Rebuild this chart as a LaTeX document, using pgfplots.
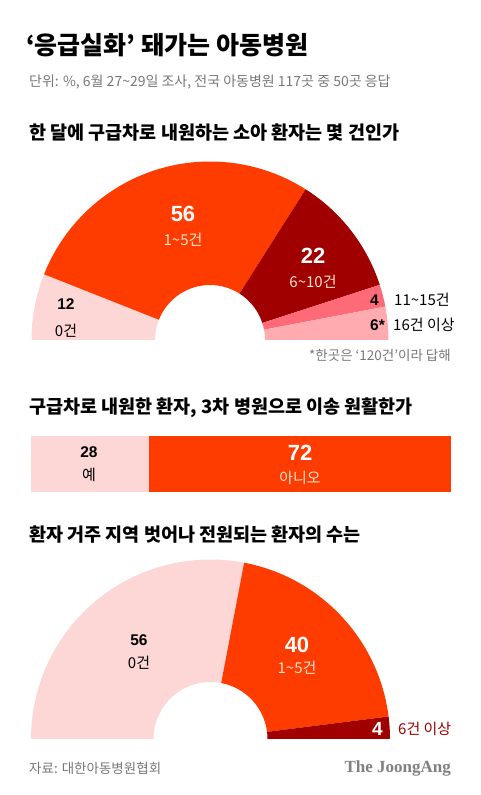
\documentclass[border=0pt]{standalone}
\usepackage{pgfplots}
\pgfplotsset{compat=1.18}
\usepackage{fontspec}
\setmainfont{Noto Sans CJK KR}
\newfontfamily\serifbrand{Liberation Serif}
\newfontfamily\num{Liberation Sans}
\definecolor{cPale}{HTML}{FDD6D6}
\definecolor{cOrange}{HTML}{FF3C00}
\definecolor{cDark}{HTML}{A00000}
\definecolor{cMid}{HTML}{FF6A78}
\definecolor{cLight}{HTML}{FFABB0}
\definecolor{cGray}{HTML}{777777}
\definecolor{cCream}{HTML}{FFE3D3}
% donut segment: cx cy R r p1 p2 colour  (p in percent of a half circle)
\newcommand{\seg}[7]{%
 \fill[#7] (axis cs:{#1+#3*cos(180-1.8*(#5))},{#2+#3*sin(180-1.8*(#5))})
   arc[start angle={180-1.8*(#5)}, end angle={180-1.8*(#6)}, radius=#3pt]
   -- (axis cs:{#1+#4*cos(180-1.8*(#6))},{#2+#4*sin(180-1.8*(#6))})
   arc[start angle={180-1.8*(#6)}, end angle={180-1.8*(#5)}, radius=#4pt] -- cycle;}
\newcommand{\fs}[1]{\fontsize{#1}{#1}\selectfont}
\begin{document}
\begin{tikzpicture}
\path (0,0) rectangle (480pt,795pt);
\begin{axis}[at={(0,0)}, anchor=south west, x=1pt, y=1pt,
  xmin=0, xmax=480, ymin=0, ymax=795, hide axis, clip=false]
% chart 1: 12, 56, 22, 4, 6
\seg{210}{455}{178.5}{55}{0}{12}{cPale}
\seg{210}{455}{178.5}{55}{12}{12+56}{cOrange}
\seg{210}{455}{178.5}{55}{12+56}{12+56+22}{cDark}
\seg{210}{455}{178.5}{55}{12+56+22}{12+56+22+4}{cMid}
\seg{210}{455}{178.5}{55}{12+56+22+4}{12+56+22+4+6}{cLight}
% chart 3: 56, 40, 4
\seg{210.5}{56}{179.5}{57}{0}{56}{cPale}
\seg{210.5}{56}{179.5}{57}{56}{56+40}{cOrange}
\seg{210.5}{56}{179.5}{57}{56+40}{56+40+4}{cDark}
\end{axis}
\begin{axis}[at={(31pt,303pt)}, anchor=south west, width=420pt, height=56pt,
  scale only axis, xbar stacked, bar width=56pt, xmin=0, xmax=100,
  ymin=-0.5, ymax=0.5, hide axis, clip=false]
\addplot[fill=cPale, draw=none] coordinates {(28,0)};
\addplot[fill=cOrange, draw=none] coordinates {(72,0)};
\end{axis}
% titles
\node[anchor=west, inner sep=0] at (26pt,750pt) {\fs{25}\bfseries ‘응급실화’ 돼가는 아동병원};
\node[anchor=west, inner sep=0, text=cGray] at (29pt,713pt) {\fs{14}단위: \%, 6월 27\textasciitilde29일 조사, 전국 아동병원 117곳 중 50곳 응답};
\node[anchor=west, inner sep=0] at (29pt,662pt) {\fs{18.5}\bfseries 한 달에 구급차로 내원하는 소아 환자는 몇 건인가};
\node[anchor=west, inner sep=0] at (29pt,387pt) {\fs{18.5}\bfseries 구급차로 내원한 환자, 3차 병원으로 이송 원활한가};
\node[anchor=west, inner sep=0] at (29pt,260pt) {\fs{18.5}\bfseries 환자 거주 지역 벗어나 전원되는 환자의 수는};
% chart 1 labels
\node[text=white] at (183pt,581pt) {\num\fs{22}\bfseries 56};
\node[text=cCream] at (183pt,555pt) {\fs{15}1\textasciitilde5건};
\node[text=white] at (313pt,539.5pt) {\num\fs{22}\bfseries 22};
\node[text=cCream] at (313pt,513pt) {\fs{15}6\textasciitilde10건};
\node at (66pt,491pt) {\num\fs{15.5}\bfseries 12};
\node at (66pt,464pt) {\fs{15}0건};
\node[anchor=east, inner sep=0] at (379pt,495pt) {\num\fs{15.5}\bfseries 4};
\node[anchor=west, inner sep=0] at (394pt,495pt) {\fs{15}11\textasciitilde15건};
\node[anchor=east, inner sep=0] at (385pt,470pt) {\num\fs{15.5}\bfseries 6*};
\node[anchor=west, inner sep=0] at (393pt,470pt) {\fs{15}16건 이상};
\node[anchor=east, inner sep=0, text=cGray] at (451pt,440pt) {\fs{13.5}*한곳은 ‘120건’이라 답해};
% chart 2 labels
\node at (89pt,343pt) {\num\fs{15.5}\bfseries 28};
\node at (89pt,320pt) {\fs{15}예};
\node[text=white] at (300pt,342.5pt) {\num\fs{22}\bfseries 72};
\node[text=cCream] at (300pt,317pt) {\fs{15}아니오};
% chart 3 labels
\node at (139pt,155pt) {\num\fs{15.5}\bfseries 56};
\node at (139pt,132pt) {\fs{15}0건};
\node[text=white] at (297pt,150.5pt) {\num\fs{22}\bfseries 40};
\node[text=cCream] at (297pt,127pt) {\fs{15}1\textasciitilde5건};
\node[anchor=east, inner sep=0, text=white] at (383pt,66pt) {\num\fs{19}\bfseries 4};
\node[anchor=west, inner sep=0, text=cDark] at (398pt,66pt) {\fs{15}6건 이상};
% footer
\node[anchor=west, inner sep=0, text=cGray] at (29pt,27pt) {\fs{13.5}자료: 대한아동병원협회};
\node[anchor=east, inner sep=0, text=gray] at (451pt,27pt) {\serifbrand\fs{17}\bfseries The JoongAng};
\end{tikzpicture}
\end{document}
